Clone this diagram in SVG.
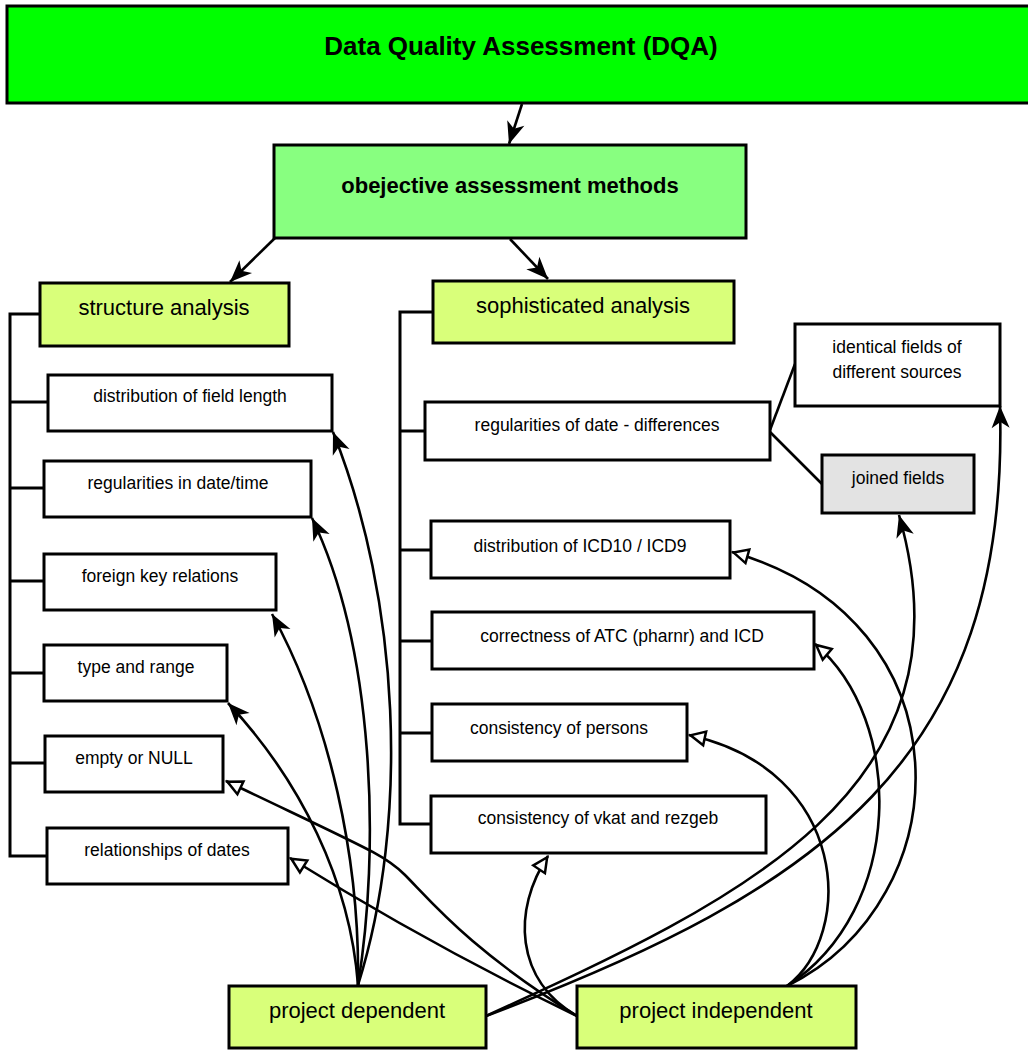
<svg xmlns="http://www.w3.org/2000/svg" width="1028" height="1050" viewBox="0 0 1028 1050">
<style>
text{font-family:"Liberation Sans",Arial,sans-serif;fill:#000;text-anchor:middle}
.b{stroke:#000;stroke-width:3}
.w{fill:#fff;stroke:#000;stroke-width:3}
.l2{fill:#d9ff7a;stroke:#000;stroke-width:3}
.big{font-size:22px}
.sm{font-size:17.5px}
.tree{fill:none;stroke:#000;stroke-width:3}
.e{fill:none;stroke:#000;stroke-width:2.6}
</style>
<defs>
<marker id="fa" viewBox="-24 -10 26 20" refX="0" refY="0" markerWidth="26" markerHeight="20" markerUnits="userSpaceOnUse" orient="auto">
<path d="M0,0 L-22,-9 L-16,0 L-22,9 Z" fill="#000"/>
</marker>
<marker id="ha" viewBox="-20 -10 22 20" refX="0" refY="0" markerWidth="22" markerHeight="20" markerUnits="userSpaceOnUse" orient="auto">
<path d="M-1.5,0 L-16,-7 L-16,7 Z" fill="#fff" stroke="#000" stroke-width="2.5" stroke-linejoin="miter"/>
</marker>
</defs>

<g id="connectors">
<g class="tree">
<path d="M40,314 H10 V856 H47"/>
<path d="M10,402 H48 M10,488 H44 M10,581 H44 M10,673 H44 M10,763 H45"/>
<path d="M433,312 H400 V824 H431"/>
<path d="M400,431 H425 M400,550 H431 M400,641 H432 M400,733 H432"/>
</g>
<path class="e" d="M770,430 L795,364"/>
<path class="e" d="M770,432 L822,484"/>
<path class="e" d="M522,104 L509,144" marker-end="url(#fa)"/>
<path class="e" d="M275,238 L230,282" marker-end="url(#fa)"/>
<path class="e" d="M510,239 L548,279" marker-end="url(#fa)"/>
<!-- project dependent -->
<path class="e" d="M358,985 C410,820 400,600 333,432" marker-end="url(#fa)"/>
<path class="e" d="M358,985 C380,850 375,650 312,518" marker-end="url(#fa)"/>
<path class="e" d="M358,985 C360,860 330,720 272,614" marker-end="url(#fa)"/>
<path class="e" d="M358,985 C350,880 300,780 228,703" marker-end="url(#fa)"/>
<path class="e" d="M486,1016 C740,900 978,790 899,515" marker-end="url(#fa)"/>
<path class="e" d="M486,1016 C820,890 1010,760 1000,406" marker-end="url(#fa)"/>
<!-- project independent -->
<path class="e" d="M577,1016 C470,950 430,900 405,875 C385,855 370,850 226,781" marker-end="url(#ha)"/>
<path class="e" d="M577,1016 Q430,945 290,858" marker-end="url(#ha)"/>
<path class="e" d="M577,1016 C515,980 512,910 548,856" marker-end="url(#ha)"/>
<path class="e" d="M787,986 C962,900 972,620 732,552" marker-end="url(#ha)"/>
<path class="e" d="M787,986 C905,910 905,720 815,644" marker-end="url(#ha)"/>
<path class="e" d="M787,986 C855,935 850,770 689,735" marker-end="url(#ha)"/>
</g>

<g id="dqa"><rect x="7" y="6" width="1030" height="97" fill="#00ff00" class="b"/><text x="521" y="55" font-size="26" font-weight="bold">Data Quality Assessment (DQA)</text></g>
<g id="objective"><rect x="274" y="145" width="472" height="93" fill="#88ff80" class="b"/><text x="510" y="193" font-size="22" font-weight="bold">obejective assessment methods</text></g>
<g id="structure"><rect x="40" y="283" width="249" height="63" class="l2"/><text class="big" x="164" y="315">structure analysis</text></g>
<g id="sophisticated"><rect x="433" y="281" width="301" height="62" class="l2"/><text class="big" x="583" y="313">sophisticated analysis</text></g>

<g id="field-length"><rect x="48" y="375" width="284" height="56" class="w"/><text class="sm" x="190" y="402">distribution of field length</text></g>
<g id="date-time"><rect x="44" y="461" width="267" height="56" class="w"/><text class="sm" x="178" y="489">regularities in date/time</text></g>
<g id="foreign-key"><rect x="44" y="554" width="232" height="56" class="w"/><text class="sm" x="160" y="582">foreign key relations</text></g>
<g id="type-range"><rect x="44" y="645" width="183" height="56" class="w"/><text class="sm" x="136" y="673">type and range</text></g>
<g id="empty-null"><rect x="45" y="736" width="178" height="56" class="w"/><text class="sm" x="134" y="764">empty or NULL</text></g>
<g id="rel-dates"><rect x="47" y="828" width="241" height="56" class="w"/><text class="sm" x="167" y="856">relationships of dates</text></g>

<g id="date-diff"><rect x="425" y="402" width="345" height="58" class="w"/><text class="sm" x="597" y="431">regularities of date - differences</text></g>
<g id="identical"><rect x="795" y="324" width="205" height="82" class="w"/><text class="sm" x="897" y="353">identical fields of</text><text class="sm" x="897" y="378">different sources</text></g>
<g id="joined"><rect x="822" y="455" width="152" height="58" fill="#e3e3e3" class="b"/><text class="sm" x="898" y="484">joined fields</text></g>
<g id="icd"><rect x="431" y="521" width="299" height="57" class="w"/><text class="sm" x="580" y="552">distribution of ICD10 / ICD9</text></g>
<g id="atc"><rect x="432" y="612" width="382" height="57" class="w"/><text class="sm" x="622" y="642">correctness of ATC (pharnr) and ICD</text></g>
<g id="persons"><rect x="432" y="704" width="255" height="57" class="w"/><text class="sm" x="559" y="734">consistency of persons</text></g>
<g id="vkat"><rect x="431" y="796" width="335" height="57" class="w"/><text class="sm" x="598" y="824">consistency of vkat and rezgeb</text></g>

<g id="proj-dep"><rect x="229" y="986" width="257" height="62" class="l2"/><text class="big" x="357" y="1018">project dependent</text></g>
<g id="proj-indep"><rect x="577" y="986" width="279" height="62" class="l2"/><text class="big" x="716" y="1018">project independent</text></g>
</svg>
